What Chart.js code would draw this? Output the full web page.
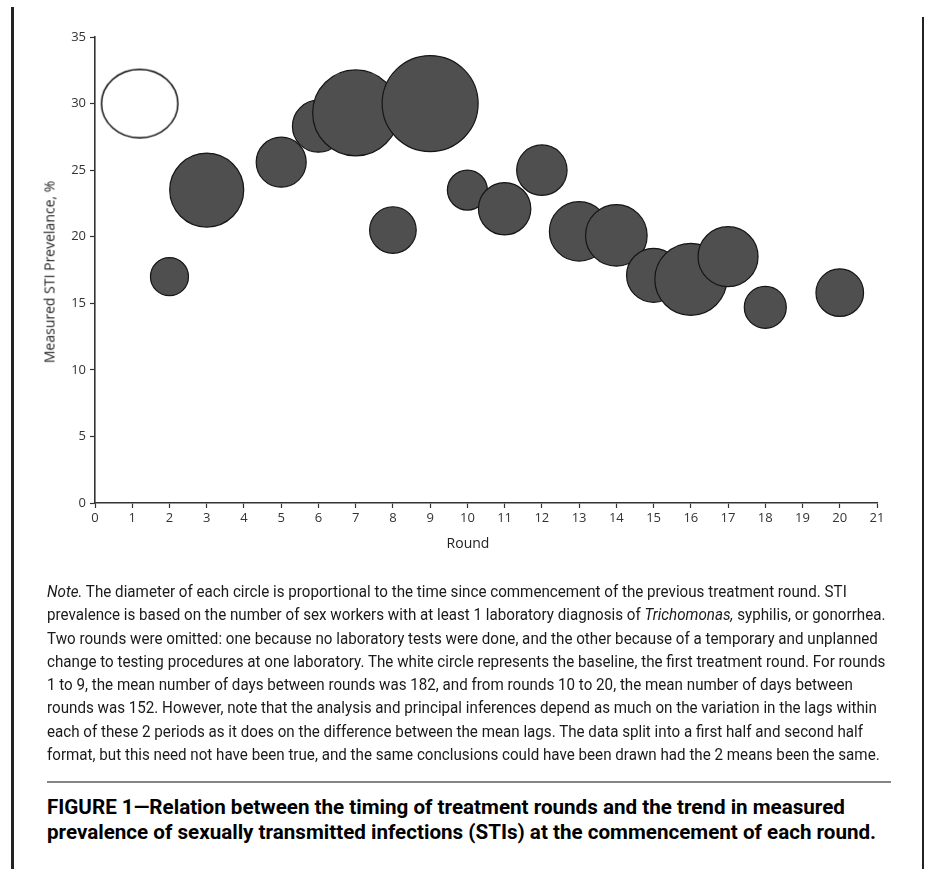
<!DOCTYPE html>
<html><head><meta charset="utf-8">
<script src="https://cdn.jsdelivr.net/npm/chart.js@4.4.1/dist/chart.umd.min.js"></script>
<style>
html,body{margin:0;padding:0;background:#fff;}
#page{position:relative;width:925px;height:869px;overflow:hidden;background:#fff;}
#chart{position:absolute;left:0;top:0;}
.bl{position:absolute;left:11px;top:7px;width:3px;height:862px;background:#222;}
.br{position:absolute;left:922px;top:17px;width:2px;height:852px;background:#222;}
.ytitle{position:absolute;left:49px;top:272px;transform:translate(-50%,-50%) rotate(-90deg);font-family:"Open Sans",sans-serif;font-size:14px;color:#222;white-space:nowrap;}
.xtitle{position:absolute;left:468px;top:542px;transform:translate(-50%,-50%);font-family:"Open Sans",sans-serif;font-size:14px;color:#222;white-space:nowrap;}
.note{position:absolute;left:47px;top:580px;font-family:Roboto,"Noto Sans",sans-serif;color:#1a1a1a;font-size:16.5px;}
.note div{white-space:nowrap;height:23.3px;line-height:23.3px;}
.sep{position:absolute;left:47px;top:781px;width:844px;height:2px;background:#858585;}
.cap{position:absolute;left:47px;top:795px;font-family:Roboto,"Noto Sans",sans-serif;font-weight:bold;color:#000;font-size:20.5px;}
.cap div{white-space:nowrap;height:24.5px;line-height:24.5px;}
span.l{display:inline-block;transform-origin:0 50%;}
</style></head>
<body>
<div id="page">
  <canvas id="chart" width="925" height="560"></canvas>
  <div class="bl"></div><div class="br"></div>
  <div class="ytitle">Measured STI Prevelance, %</div>
  <div class="xtitle">Round</div>
  <div class="note" id="note">
    <div><span class="l"><i>Note.</i> The diameter of each circle is proportional to the time since commencement of the previous treatment round. STI</span></div>
    <div><span class="l">prevalence is based on the number of sex workers with at least 1 laboratory diagnosis of <i>Trichomonas,</i> syphilis, or gonorrhea.</span></div>
    <div><span class="l">Two rounds were omitted: one because no laboratory tests were done, and the other because of a temporary and unplanned</span></div>
    <div><span class="l">change to testing procedures at one laboratory. The white circle represents the baseline, the first treatment round. For rounds</span></div>
    <div><span class="l">1 to 9, the mean number of days between rounds was 182, and from rounds 10 to 20, the mean number of days between</span></div>
    <div><span class="l">rounds was 152. However, note that the analysis and principal inferences depend as much on the variation in the lags within</span></div>
    <div><span class="l">each of these 2 periods as it does on the difference between the mean lags. The data split into a first half and second half</span></div>
    <div><span class="l">format, but this need not have been true, and the same conclusions could have been drawn had the 2 means been the same.</span></div>
  </div>
  <div class="sep"></div>
  <div class="cap" id="cap">
    <div><span class="l">FIGURE 1—Relation between the timing of treatment rounds and the trend in measured</span></div>
    <div><span class="l">prevalence of sexually transmitted infections (STIs) at the commencement of each round.</span></div>
  </div>
</div>
<script>
// ---- data ----
const roundX = [1.2, 2, 3, 5, 6, 7, 8, 9, 10, 11, 12, 13, 14, 15, 16, 17, 18, 20];
const prevalence = [30.0, 17.0, 23.5, 25.6, 28.3, 29.3, 20.5, 30.0, 23.5, 22.1, 25.0, 20.4, 20.1, 17.1, 16.8, 18.5, 14.7, 15.8];
const circleRadius = [36, 19, 37, 25, 26, 43, 23.3, 48, 20, 26.2, 25.2, 29.7, 30.8, 27, 36, 30, 21, 23.8];
const xTickValues = [0,1,2,3,4,5,6,7,8,9,10,11,12,13,14,15,16,17,18,19,20,21];
const yTickValues = [0,5,10,15,20,25,30,35];

// ---- condense text lines horizontally to the widths seen in the reference ----
function fitBlock(id, targets){
  const el = document.getElementById(id);
  const spans = el.querySelectorAll('span.l');
  let sw = 0, st = 0;
  spans.forEach((s,i)=>{ sw += s.getBoundingClientRect().width; st += targets[i]; });
  const k = st / sw;
  spans.forEach(s => { s.style.transform = 'scaleX(' + k.toFixed(4) + ')'; });
}
fitBlock('note', [800, 826, 828, 837, 811, 832, 819, 839]);
fitBlock('cap', [803, 824]);

// ---- baseline ellipse marker ----
const ell = document.createElement('canvas');
ell.width = 80; ell.height = 72;
(function(){
  const c = ell.getContext('2d');
  c.beginPath();
  c.ellipse(40, 36, 38.2, 34.3, 0, 0, Math.PI*2);
  c.fillStyle = '#ffffff'; c.fill();
  c.lineWidth = 1.4; c.strokeStyle = '#000'; c.stroke();
})();

const baselinePts = [{x: roundX[0], y: prevalence[0], r: circleRadius[0]}];
const roundPts = roundX.slice(1).map((x,i)=>({x, y: prevalence[i+1], r: circleRadius[i+1]}));

const tickFont = {family: 'Open Sans', size: 13};
const axisColor = '#333';

new Chart(document.getElementById('chart'), {
  type: 'bubble',
  data: {
    datasets: [
      {label: 'Baseline', data: baselinePts, pointStyle: ell, backgroundColor: '#fff', borderColor: '#000', borderWidth: 1.2, clip: false},
      {label: 'Rounds', data: roundPts, backgroundColor: '#4f4f4f', borderColor: '#151515', borderWidth: 1.2, clip: false}
    ]
  },
  options: {
    responsive: false,
    animation: false,
    events: [],
    layout: {autoPadding: false, padding: {left: 0, right: 48, top: 37, bottom: 0}},
    plugins: {legend: {display: false}, tooltip: {enabled: false}, title: {display: false}},
    scales: {
      x: {
        type: 'linear', min: 0, max: 21,
        afterBuildTicks: s => { s.ticks = xTickValues.map(v => ({value: v})); },
        afterFit: s => { s.height = 57; },
        ticks: {color: axisColor, font: tickFont, padding: 2, autoSkip: false, maxRotation: 0},
        grid: {display: true, drawOnChartArea: false, drawTicks: true, tickLength: 5, tickColor: axisColor, tickWidth: 1.2},
        border: {display: true, color: axisColor, width: 1.6}
      },
      y: {
        type: 'linear', min: 0, max: 35,
        afterBuildTicks: s => { s.ticks = yTickValues.map(v => ({value: v})); },
        afterFit: s => { s.width = 95; },
        ticks: {color: axisColor, font: tickFont, padding: 4},
        grid: {display: true, drawOnChartArea: false, drawTicks: true, tickLength: 5, tickColor: axisColor, tickWidth: 1.2},
        border: {display: true, color: axisColor, width: 1.6}
      }
    }
  }
});
</script>
</body></html>
